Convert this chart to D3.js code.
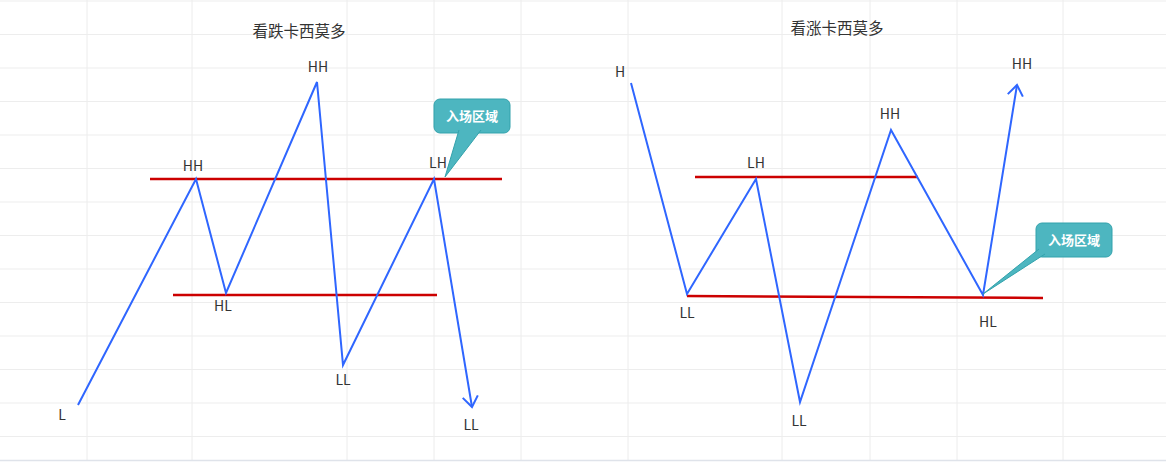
<!DOCTYPE html>
<html>
<head>
<meta charset="utf-8">
<script src="https://cdn.jsdelivr.net/npm/d3@7"></script>
<title>卡西莫多</title>
<style>
    html, body { margin: 0; padding: 0; background: #fff; }
    svg { display: block; }
    .label { font-family: "Noto Sans CJK SC", sans-serif; font-size: 14px; fill: #333; }
    .title { font-family: "Noto Sans CJK SC", sans-serif; font-size: 15.5px; fill: #333; }
    .callout-text { font-family: "Noto Sans CJK SC", sans-serif; font-size: 13px; font-weight: bold; fill: #fff; }
</style>
</head>
<body>
<svg width="1166" height="462"></svg>

<script>
    const width = 1166;
    const height = 462;

    // 看跌 (bearish) swing points, x = time units, y = price units
    const bearTitle = "看跌卡西莫多";
    const bearX = [7.8, 19.6, 22.6, 31.7, 34.3, 43.4, 47.2];
    const bearY = [5.5, 28.1, 16.7, 37.8, 9.5, 28.1, 5.3];
    const bearLabels = ["L", "HH", "HL", "HH", "LL", "LH", "LL"];
    const bearLevels = [[15.0, 28.1, 50.2, 28.1], [17.3, 16.5, 43.7, 16.5]];

    // 看涨 (bullish)
    const bullTitle = "看涨卡西莫多";
    const bullX = [63.1, 68.7, 75.6, 80.0, 89.1, 98.3, 101.7];
    const bullY = [37.7, 16.6, 28.1, 5.8, 33.0, 16.5, 37.5];
    const bullLabels = ["H", "LL", "LH", "LL", "HH", "HL", "HH"];
    const bullLevels = [[69.5, 28.3, 91.8, 28.3], [68.7, 16.4, 104.3, 16.2]];

    const calloutText = "入场区域";

    const x = d3.scaleLinear().domain([0, 116.6]).range([0, width]);
    const y = d3.scaleLinear().domain([0, 46]).range([460, 0]);

    const svg = d3.select("svg");

    // background grid
    const gridX = [87, 192, 347, 434, 521, 628, 782, 870, 957, 1063];
    const gridY = d3.range(14).map(i => 1 + i * 33.5);
    svg.append("g").selectAll("line").data(gridX).enter().append("line")
        .attr("x1", d => d).attr("x2", d => d).attr("y1", 0).attr("y2", 460)
        .attr("stroke", "#ececec").attr("stroke-width", 1);
    svg.append("g").selectAll("line").data(gridY).enter().append("line")
        .attr("x1", 0).attr("x2", width).attr("y1", d => d).attr("y2", d => d)
        .attr("stroke", "#ededed").attr("stroke-width", 1);
    svg.append("line").attr("x1", 0).attr("x2", width).attr("y1", 460.5).attr("y2", 460.5)
        .attr("stroke", "#dfe3ea").attr("stroke-width", 1.5);

    // label offsets (px) relative to each swing point
    const bearOffsets = [[-16, 10], [-3, -13], [-3, 13], [1, -15], [0, 15], [4, -16], [-1, 18]];
    const bullOffsets = [[-11, -11], [0, 19], [0, -16], [-1, 19], [-1, -16], [5, 27], [5, -21]];

    function drawPattern(xs, ys, labels, levels, offsets, title, titleX, titleY, callout) {
        const pts = xs.map((v, i) => [x(v), y(ys[i])]);
        const g = svg.append("g");

        g.selectAll("line.level").data(levels).enter().append("line")
            .attr("class", "level")
            .attr("x1", d => x(d[0])).attr("y1", d => y(d[1]))
            .attr("x2", d => x(d[2])).attr("y2", d => y(d[3]))
            .attr("stroke", "#cc0000").attr("stroke-width", 2.5);

        g.append("path")
            .attr("d", d3.line()(pts))
            .attr("fill", "none").attr("stroke", "#2f66ff").attr("stroke-width", 2)
            .attr("stroke-linejoin", "miter");

        // arrow head on last segment
        const a = pts[pts.length - 2], b = pts[pts.length - 1];
        const ang = Math.atan2(b[1] - a[1], b[0] - a[0]);
        const len = 13, spread = 36 * Math.PI / 180;
        const arm = s => [b[0] - len * Math.cos(ang + s), b[1] - len * Math.sin(ang + s)];
        g.append("path")
            .attr("d", d3.line()([arm(spread), b, arm(-spread)]))
            .attr("fill", "none").attr("stroke", "#2f66ff").attr("stroke-width", 2);

        g.selectAll("text.label").data(labels).enter().append("text")
            .attr("class", "label")
            .attr("text-anchor", "middle")
            .attr("x", (d, i) => pts[i][0] + offsets[i][0])
            .attr("y", (d, i) => pts[i][1] + offsets[i][1] + 5)
            .text(d => d);

        g.append("text").attr("class", "title")
            .attr("text-anchor", "middle")
            .attr("x", x(titleX)).attr("y", titleY)
            .text(title);

        // callout bubble
        const p = pts[callout.idx];
        const tip = [p[0] + callout.tipDx, p[1] + callout.tipDy];
        const bw = 76, bh = 34;
        const bx = x(callout.cx) - bw / 2, by = y(callout.cy) - bh / 2;
        g.append("rect")
            .attr("x", bx).attr("y", by).attr("width", bw).attr("height", bh)
            .attr("rx", 6).attr("ry", 6)
            .attr("fill", "#4db6c0").attr("stroke", "#33a2ac").attr("stroke-width", 1);
        g.append("path")
            .attr("d", d3.line()([[bx + callout.tail[0][0], by + callout.tail[0][1]], tip,
                [bx + callout.tail[1][0], by + callout.tail[1][1]]]))
            .attr("fill", "#4db6c0").attr("stroke", "#33a2ac").attr("stroke-width", 1);
        g.append("text").attr("class", "callout-text")
            .attr("text-anchor", "middle")
            .attr("x", bx + bw / 2).attr("y", by + bh / 2 + 5)
            .text(calloutText);
    }

    drawPattern(bearX, bearY, bearLabels, bearLevels, bearOffsets, bearTitle, 29.9, 36.5,
        { idx: 5, cx: 47.2, cy: 34.4, tipDx: 11, tipDy: -2, tail: [[25, 31], [47, 31]] });
    drawPattern(bullX, bullY, bullLabels, bullLevels, bullOffsets, bullTitle, 83.7, 34,
        { idx: 5, cx: 107.4, cy: 22.0, tipDx: 0, tipDy: -1, tail: [[3, 26], [9, 31]] });
</script>
</body>
</html>
